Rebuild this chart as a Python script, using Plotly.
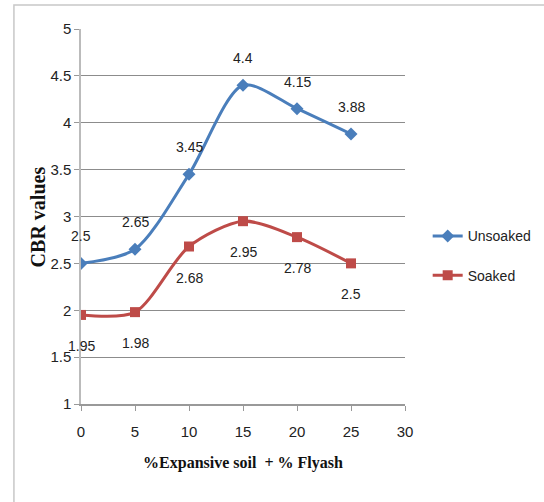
import plotly.graph_objects as go

x_vals = [0, 5, 10, 15, 20, 25]
unsoaked = [2.5, 2.65, 3.45, 4.4, 4.15, 3.88]
soaked = [1.95, 1.98, 2.68, 2.95, 2.78, 2.5]
unsoaked_labels = ["2.5", "2.65", "3.45", "4.4", "4.15", "3.88"]
soaked_labels = ["1.95", "1.98", "2.68", "2.95", "2.78", "2.5"]

blue = "#4A7EBB"
red = "#BE4B48"
sans = "Liberation Sans Narrow, Arial Narrow, Liberation Sans, Arial"
serif = "Liberation Serif, Times New Roman, serif"
lab_font = dict(family=sans, size=14, color="#222")

fig = go.Figure()
fig.add_trace(go.Scatter(x=x_vals, y=unsoaked, name="Unsoaked", mode="lines+markers", legendgroup="a",
                         line=dict(color=blue, width=3, shape="spline", smoothing=0.8),
                         marker=dict(symbol="diamond", size=10, color=blue)))
fig.add_trace(go.Scatter(x=x_vals, y=soaked, name="Soaked", mode="lines+markers", legendgroup="b",
                         line=dict(color=red, width=3, shape="spline", smoothing=0.8),
                         marker=dict(symbol="square", size=10, color=red)))

for xv, yv, t in zip(x_vals, unsoaked, unsoaked_labels):
    fig.add_annotation(x=xv, y=yv, text=t, showarrow=False, yshift=27, font=lab_font)
for xv, yv, t in zip(x_vals, soaked, soaked_labels):
    fig.add_annotation(x=xv, y=yv, text=t, showarrow=False, yshift=-31, font=lab_font)

fig.add_annotation(xref="paper", yref="paper", x=-0.133, y=0.5, text="CBR values", textangle=-90,
                   showarrow=False, xanchor="center", yanchor="middle",
                   font=dict(family=serif, size=20, color="#111", weight="bold"))

fig.add_shape(type="rect", xref="paper", yref="paper", x0=-0.207, x1=2.0, y0=-1.0, y1=1.064,
              line=dict(color="#c8c8c8", width=1.5), layer="below")

fig.update_layout(
    width=544, height=502,
    margin=dict(l=81, r=139, t=29, b=98, autoexpand=False),
    paper_bgcolor="white", plot_bgcolor="white",
    showlegend=True,
    legend=dict(x=1.07, y=0.395, xanchor="left", yanchor="middle", traceorder="grouped",
                font=dict(family=sans, size=14, color="#222"),
                tracegroupgap=18, itemwidth=30, bgcolor="rgba(0,0,0,0)"),
    xaxis=dict(range=[0, 30], tickvals=[0, 5, 10, 15, 20, 25, 30], showgrid=False, zeroline=False,
               showline=True, linecolor="#999", linewidth=1.5, ticks="outside", ticklen=5, tickcolor="#999",
               ticklabelstandoff=8,
               tickfont=dict(family=sans, size=15, color="#222"),
               title=dict(text="%Expansive soil  + % Flyash",
                          font=dict(family=serif, size=16, color="#111", weight="bold"),
                          standoff=18)),
    yaxis=dict(range=[1, 5], tickvals=[1, 1.5, 2, 2.5, 3, 3.5, 4, 4.5, 5],
               ticktext=["1", "1.5", "2", "2.5", "3", "3.5", "4", "4.5", "5"],
               showgrid=True, gridcolor="#8c8c8c", gridwidth=1.2, zeroline=False,
               showline=True, linecolor="#bbb", linewidth=1.5, ticks="outside", ticklen=5, tickcolor="#999",
               tickfont=dict(family=sans, size=15, color="#222")),
)

fig.write_html("out.html")
